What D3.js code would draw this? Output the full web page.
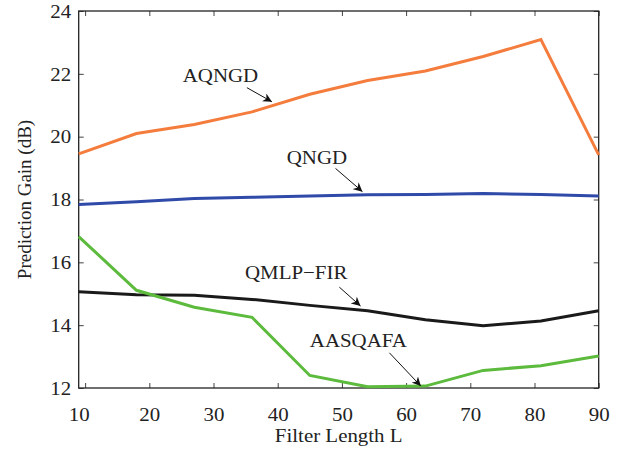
<!DOCTYPE html>
<html>
<head>
<meta charset="utf-8">
<script src="https://cdn.jsdelivr.net/npm/d3@7"></script>
<style>
  body { margin: 0; background: #fff; }
  text { font-family: "Liberation Serif", "DejaVu Serif", serif; fill: #222; }
</style>
</head>
<body>
<div id="chart"></div>
<script>
// filter lengths and prediction gains (dB)
let filterLength = [9, 18, 27, 36, 45, 54, 63, 72, 81, 90];
let aqngd   = [19.45, 20.10, 20.39, 20.79, 21.35, 21.79, 22.09, 22.55, 23.09, 19.42];
let qngd    = [17.84, 17.93, 18.03, 18.07, 18.11, 18.15, 18.16, 18.19, 18.16, 18.11];
let qmlpFir = [15.06, 14.97, 14.95, 14.82, 14.63, 14.46, 14.17, 13.98, 14.13, 14.46];
let aasqafa = [16.82, 15.11, 14.57, 14.25, 12.40, 12.04, 12.06, 12.56, 12.71, 13.02];

let seriesNames  = ["AQNGD", "QNGD", "QMLP\u2212FIR", "AASQAFA"];
let seriesColors = ["#f47c3c", "#2f4aa8", "#1a1a1a", "#5cba3c"];

let xTicks = [10, 20, 30, 40, 50, 60, 70, 80, 90];
let yTicks = [12, 14, 16, 18, 20, 22, 24];

// annotation text anchor (data units) and arrow start/end (data units)
let labelPos  = [[25.2, 21.74], [41.4, 19.13], [34.9, 15.47], [45.0, 13.31]];
let arrowFrom = [[35.2, 21.56], [49.0, 18.99], [49.6, 15.21], [57.4, 13.12]];
let arrowTo   = [[39.1, 21.11], [53.2, 18.25], [52.9, 14.61], [62.3, 12.06]];

////////////////////////////////////////////////////////////////////////

let width = 633, height = 449;
let margin = {left: 78.7, right: 34.3, top: 11, bottom: 61};
let stretch = 1.1;   // the original figure is a bit wider than tall

let xScale = d3.scaleLinear().domain([9, 90]).range([margin.left, width - margin.right]);
let yScale = d3.scaleLinear().domain([12, 24]).range([height - margin.bottom, margin.top]);

let svg = d3.select("#chart").append("svg")
  .attr("width", width)
  .attr("height", height);

svg.append("defs").append("marker")
  .attr("id", "head")
  .attr("viewBox", "0 0 10 10")
  .attr("refX", 10).attr("refY", 5)
  .attr("markerWidth", 9).attr("markerHeight", 9)
  .attr("markerUnits", "userSpaceOnUse")
  .attr("orient", "auto")
  .append("path")
  .attr("d", "M0,0L10,5L0,10L3,5Z")
  .attr("fill", "#111");

function styleAxis(g, showLabels) {
  g.select(".domain").remove();
  g.selectAll("line").attr("stroke", "#444").attr("stroke-width", 1);
  if (!showLabels) g.selectAll("text").remove();
  g.selectAll("text")
    .style("font-size", "19px")
    .attr("fill", "#222");
}

// bottom axis, ticks pointing into the plot
let xAxis = svg.append("g")
  .attr("transform", "translate(0," + yScale(12) + ")")
  .call(d3.axisBottom(xScale).tickValues(xTicks).tickSize(-5).tickPadding(8).tickFormat(d3.format("d")));
styleAxis(xAxis, true);
xAxis.selectAll("text")
  .attr("y", 20)
  .attr("transform", function(d) {
    // first label sits on the left border in the original
    let shift = d === 10 ? (xScale(9) - xScale(10)) / stretch : 0;
    return "scale(" + stretch + ",1) translate(" + shift + ",0)";
  });

let xTop = svg.append("g")
  .attr("transform", "translate(0," + yScale(24) + ")")
  .call(d3.axisTop(xScale).tickValues(xTicks).tickSize(-5));
styleAxis(xTop, false);

let yAxis = svg.append("g")
  .attr("transform", "translate(" + xScale(9) + ",0)")
  .call(d3.axisLeft(yScale).tickValues(yTicks).tickSize(-5).tickPadding(7).tickFormat(d3.format("d")));
styleAxis(yAxis, true);
yAxis.selectAll("text").attr("transform", "scale(" + stretch + ",1)").attr("x", -7.5 / stretch).attr("dy", "0.33em");

let yRight = svg.append("g")
  .attr("transform", "translate(" + xScale(90) + ",0)")
  .call(d3.axisRight(yScale).tickValues(yTicks).tickSize(-5));
styleAxis(yRight, false);

// box
svg.append("rect")
  .attr("x", xScale(9)).attr("y", yScale(24))
  .attr("width", xScale(90) - xScale(9))
  .attr("height", yScale(12) - yScale(24))
  .attr("fill", "none")
  .attr("stroke", "#222")
  .attr("stroke-width", 1.3);

// lines
let line = d3.line()
  .x(function(d) { return xScale(d[0]); })
  .y(function(d) { return yScale(d[1]); });

[aqngd, qngd, qmlpFir, aasqafa].forEach(function(values, i) {
  svg.append("path")
    .attr("d", line(d3.zip(filterLength, values)))
    .attr("fill", "none")
    .attr("stroke", seriesColors[i])
    .attr("stroke-width", 3)
    .attr("stroke-linejoin", "miter");
});

// annotations
seriesNames.forEach(function(name, i) {
  svg.append("text")
    .attr("transform", "translate(" + xScale(labelPos[i][0]) + "," + yScale(labelPos[i][1]) + ") scale(" + stretch + ",1)")
    .style("font-size", "19px")
    .text(name);
  svg.append("line")
    .attr("x1", xScale(arrowFrom[i][0])).attr("y1", yScale(arrowFrom[i][1]))
    .attr("x2", xScale(arrowTo[i][0])).attr("y2", yScale(arrowTo[i][1]))
    .attr("stroke", "#111")
    .attr("stroke-width", 1)
    .attr("marker-end", "url(#head)");
});

// axis titles
svg.append("text")
  .attr("transform", "translate(" + (xScale(9) + xScale(90)) / 2 + ",441.5) scale(" + stretch + ",1)")
  .attr("text-anchor", "middle")
  .style("font-size", "19px")
  .text("Filter Length L");

svg.append("text")
  .attr("transform", "translate(31," + (yScale(12) + yScale(24)) / 2 + ") rotate(-90)")
  .attr("text-anchor", "middle")
  .style("font-size", "19px")
  .text("Prediction Gain (dB)");
</script>
</body>
</html>
